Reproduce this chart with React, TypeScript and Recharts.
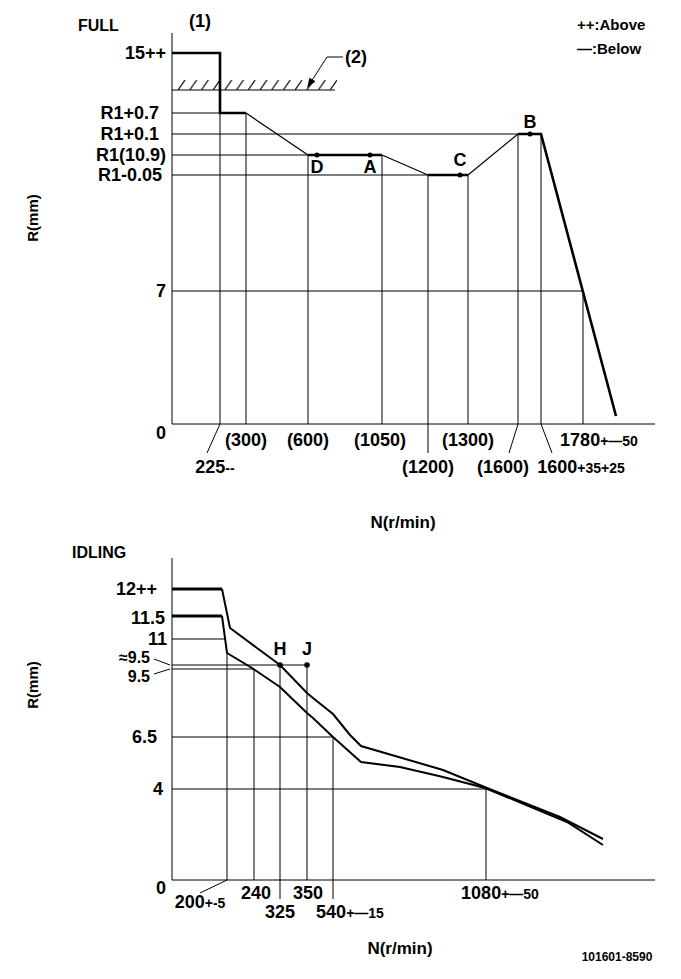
import React from "react";
import {
  ComposedChart,
  Line,
  XAxis,
  YAxis,
  ReferenceLine,
  ReferenceDot,
  ReferenceArea,
} from "recharts";

const FONT = "'Liberation Sans', Arial, sans-serif";
const INK = "#000";

// Schematic drawing: positions,
// x counted from the R axis, y counted up from the N axis.

// ---- FULL ----
const fullTickX = [48, 74, 136, 210, 256, 296, 346, 369, 411];
const fullTickXLabels = ["225--", "(300)", "(600)", "(1050)", "(1200)", "(1300)", "(1600)", "1600+35+25", "1780+—50"];
const fullTickY = [0, 133, 249, 269, 290, 311, 371];
const fullTickYLabels = ["0", "7", "R1-0.05", "R1(10.9)", "R1+0.1", "R1+0.7", "15++"];

const fullCurveX = [0, 48, 48, 74, 136, 210, 256, 296, 346, 369, 444];
const fullCurveY = [371, 371, 311, 311, 269, 269, 249, 249, 290, 290, 8];

const fullPointNames = ["D", "A", "C", "B"];
const fullPointX = [145, 198, 288, 358];
const fullPointY = [269, 269, 249, 290];

// horizontal guides: level and where they stop
const fullGuideLevels = [311, 290, 269, 249, 133];
const fullGuideLevelEnds = [48, 346, 136, 256, 411];
// vertical guides: one per speed tick, up to this level
const fullGuideTops = [311, 311, 269, 269, 249, 249, 290, 290, 133];

// ---- IDLING ----
const idleTickX = [55, 82, 108, 135, 161, 314];
const idleTickXLabels = ["200+-5", "240", "325", "350", "540+—15", "1080+—50"];
const idleTickY = [0, 91, 143, 211, 215, 241, 264, 291];
const idleTickYLabels = ["0", "4", "6.5", "9.5", "≈9.5", "11", "11.5", "12++"];

const idleUpperX = [0, 50, 58, 85, 108, 135, 141, 161, 178, 189, 271, 315, 388, 431];
const idleUpperY = [291, 291, 252, 232, 215, 187, 182, 166, 145, 134, 110, 92, 63, 41];
const idleLowerX = [0, 50, 55, 80, 108, 135, 141, 161, 189, 228, 271, 313, 395, 431];
const idleLowerY = [264, 264, 227, 212, 193, 167, 162, 143, 118, 113, 103, 92, 58, 35];

const idlePointNames = ["H", "J"];
const idlePointX = [108, 135];
const idlePointY = [215, 215];

const idleGuideLevels = [241, 215, 211, 143, 91];
const idleGuideLevelEnds = [54, 135, 82, 161, 314];
const idleGuideTops = [227, 211, 215, 215, 143, 91];

// ---- styling (kept apart from the values) ----
const fullSegWidth = [2.6, 2.6, 2.6, 1.2, 2.6, 1.2, 2.6, 1.2, 2.6, 2.6];
const idleSegWidth = (n: number) => Array.from({ length: n }, (_, i) => (i === 0 ? 3 : 2));

const fullXDx = [-5, 0, 0, -2, 0, 0, -15, 40, 16];
const fullXDy = [43, 16, 16, 16, 43, 16, 43, 43, 16];
const fullYGap = [6, 6, 10, 6, 13, 13, 6];
const fullYDy = [9, 0, 0, 0, 0, 0, 0];

const idleXDx = [-27, 2, 0, 1, 17, 14];
const idleXDy = [22, 13, 32, 13, 32, 13];
const idleYGap = [6, 9, 15, 22, 22, 5, 7, 15];
const idleYDy = [8, 0, 0, 7, -8, 0, 2, 0];
const idleYSize = [18, 18, 18, 16, 16, 18, 18, 18];

const TICK_SIZE = 18;
const Y_AXIS_W = 60;
const X_AXIS_H = 30;

function runs(xs: number[], ys: number[], widths: number[]) {
  const out: { w: number; pts: { x: number; y: number }[] }[] = [];
  for (let i = 0; i < xs.length - 1; i++) {
    const w = widths[i];
    const last = out[out.length - 1];
    if (last && last.w === w) {
      last.pts.push({ x: xs[i + 1], y: ys[i + 1] });
    } else {
      out.push({ w, pts: [{ x: xs[i], y: ys[i] }, { x: xs[i + 1], y: ys[i + 1] }] });
    }
  }
  return out;
}

function splitTol(label: string) {
  const m = label.match(/^(\(?\d+\)?)(.*)$/);
  return m ? [m[1], m[2]] : [label, ""];
}

function XTick(props: any) {
  const { x, y, payload, ticks, labels, dx, dy } = props;
  const i = ticks.indexOf(payload.value);
  if (i < 0) return null;
  const [main, tol] = splitTol(labels[i]);
  return (
    <text x={x + dx[i]} y={y + dy[i]} dy="0.36em" textAnchor="middle" fontFamily={FONT} fontWeight="bold" fontSize={TICK_SIZE} fill={INK}>
      {main}
      {tol && <tspan fontSize={14}>{tol}</tspan>}
    </text>
  );
}

function YTick(props: any) {
  const { x, y, payload, ticks, labels, gap, dy, sizes } = props;
  const i = ticks.indexOf(payload.value);
  if (i < 0) return null;
  return (
    <text
      x={x - gap[i]}
      y={y + dy[i]}
      dy="0.36em"
      textAnchor="end"
      fontFamily={FONT}
      fontWeight="bold"
      fontSize={sizes ? sizes[i] : TICK_SIZE}
      fill={INK}
    >
      {labels[i]}
    </text>
  );
}

const dotLabel = (value: string, position: "top" | "bottom", offset: number) => ({
  value,
  position,
  offset,
  fill: INK,
  fontSize: TICK_SIZE,
  fontWeight: "bold",
  fontFamily: FONT,
});

function Arrow(props: any) {
  const { cx, cy } = props;
  return <polygon points="0,0 -10,-3.5 -10,3.5" fill={INK} transform={`translate(${cx},${cy}) rotate(123)`} />;
}

function FullChart() {
  const segs = runs(fullCurveX, fullCurveY, fullSegWidth);
  return (
    <ComposedChart width={681} height={500} margin={{ top: 33, right: 26, bottom: 76 - X_AXIS_H, left: 172 - Y_AXIS_W }}>
      <defs>
        <pattern id="hatch" patternUnits="userSpaceOnUse" x={178} y={80} width={11.7} height={10}>
          <line x1={0} y1={10} x2={7} y2={0} stroke={INK} strokeWidth={1.2} />
        </pattern>
      </defs>
      <XAxis
        type="number"
        dataKey="x"
        domain={[0, 483]}
        allowDataOverflow
        ticks={fullTickX}
        interval={0}
        height={X_AXIS_H}
        tickSize={0}
        tickMargin={0}
        tickLine={false}
        axisLine={{ stroke: INK, strokeWidth: 1 }}
        tick={(p: any) => <XTick {...p} ticks={fullTickX} labels={fullTickXLabels} dx={fullXDx} dy={fullXDy} />}
      />
      <YAxis
        type="number"
        dataKey="y"
        domain={[0, 391]}
        allowDataOverflow
        ticks={fullTickY}
        interval={0}
        width={Y_AXIS_W}
        tickSize={0}
        tickMargin={0}
        tickLine={false}
        axisLine={{ stroke: INK, strokeWidth: 1 }}
        tick={(p: any) => <YTick {...p} ticks={fullTickY} labels={fullTickYLabels} gap={fullYGap} dy={fullYDy} />}
      />

      {fullGuideLevels.map((lv, i) => (
        <ReferenceLine key={"h" + i} segment={[{ x: 0, y: lv }, { x: fullGuideLevelEnds[i], y: lv }]} stroke={INK} strokeWidth={1} />
      ))}
      {fullTickX.map((sx, i) => (
        <ReferenceLine key={"v" + i} segment={[{ x: sx, y: 0 }, { x: sx, y: fullGuideTops[i] }]} stroke={INK} strokeWidth={1} />
      ))}

      {/* leaders below the axis */}
      <ReferenceLine segment={[{ x: 48, y: 0 }, { x: 35, y: -29 }]} stroke={INK} ifOverflow="visible" />
      <ReferenceLine segment={[{ x: 256, y: 0 }, { x: 256, y: -29 }]} stroke={INK} ifOverflow="visible" />
      <ReferenceLine segment={[{ x: 346, y: 0 }, { x: 337, y: -29 }]} stroke={INK} ifOverflow="visible" />
      <ReferenceLine segment={[{ x: 369, y: 0 }, { x: 380, y: -29 }]} stroke={INK} ifOverflow="visible" />

      {/* stopper (2) */}
      <ReferenceArea x1={2} x2={165} y1={334} y2={344} fill="url(#hatch)" fillOpacity={1} stroke="none" />
      <ReferenceLine segment={[{ x: 0, y: 334 }, { x: 163, y: 334 }]} stroke={INK} strokeWidth={1.2} />
      <ReferenceLine segment={[{ x: 155, y: 367 }, { x: 171, y: 367 }]} stroke={INK} />
      <ReferenceLine segment={[{ x: 155, y: 367 }, { x: 137, y: 339 }]} stroke={INK} />
      <ReferenceDot x={135} y={336} r={3} shape={<Arrow />} />

      {segs.map((s, i) => (
        <Line
          key={"s" + i}
          data={s.pts}
          dataKey="y"
          type="linear"
          stroke={INK}
          strokeWidth={s.w}
          strokeLinejoin="miter"
          dot={false}
          activeDot={false}
          isAnimationActive={false}
        />
      ))}

      {fullPointNames.map((n, i) => (
        <ReferenceDot
          key={n}
          x={fullPointX[i]}
          y={fullPointY[i]}
          r={2.5}
          fill={INK}
          stroke="none"
          label={i < 2 ? dotLabel(n, "bottom", 3) : dotLabel(n, "top", i === 3 ? 4 : 7)}
        />
      ))}
    </ComposedChart>
  );
}

function IdleChart() {
  const upper = runs(idleUpperX, idleUpperY, idleSegWidth(idleUpperX.length - 1));
  const lower = runs(idleLowerX, idleLowerY, idleSegWidth(idleLowerX.length - 1));
  return (
    <ComposedChart width={681} height={479} margin={{ top: 58, right: 26, bottom: 99 - X_AXIS_H, left: 172 - Y_AXIS_W }}>
      <XAxis
        type="number"
        dataKey="x"
        domain={[0, 483]}
        allowDataOverflow
        ticks={idleTickX}
        interval={0}
        height={X_AXIS_H}
        tickSize={0}
        tickMargin={0}
        tickLine={false}
        axisLine={{ stroke: INK, strokeWidth: 1 }}
        tick={(p: any) => <XTick {...p} ticks={idleTickX} labels={idleTickXLabels} dx={idleXDx} dy={idleXDy} />}
      />
      <YAxis
        type="number"
        dataKey="y"
        domain={[0, 322]}
        allowDataOverflow
        ticks={idleTickY}
        interval={0}
        width={Y_AXIS_W}
        tickSize={0}
        tickMargin={0}
        tickLine={false}
        axisLine={{ stroke: INK, strokeWidth: 1 }}
        tick={(p: any) => (
          <YTick {...p} ticks={idleTickY} labels={idleTickYLabels} gap={idleYGap} dy={idleYDy} sizes={idleYSize} />
        )}
      />

      {idleGuideLevels.map((lv, i) => (
        <ReferenceLine key={"h" + i} segment={[{ x: 0, y: lv }, { x: idleGuideLevelEnds[i], y: lv }]} stroke={INK} strokeWidth={1} />
      ))}
      {idleTickX.map((sx, i) => (
        <ReferenceLine key={"v" + i} segment={[{ x: sx, y: 0 }, { x: sx, y: idleGuideTops[i] }]} stroke={INK} strokeWidth={1} />
      ))}

      <ReferenceLine segment={[{ x: 55, y: 0 }, { x: 28, y: -13 }]} stroke={INK} ifOverflow="visible" />
      <ReferenceLine segment={[{ x: 108, y: 0 }, { x: 108, y: -19 }]} stroke={INK} ifOverflow="visible" />
      <ReferenceLine segment={[{ x: 161, y: 0 }, { x: 161, y: -19 }]} stroke={INK} ifOverflow="visible" />
      <ReferenceLine segment={[{ x: -18, y: 221 }, { x: -2, y: 215 }]} stroke={INK} ifOverflow="visible" />
      <ReferenceLine segment={[{ x: -18, y: 206 }, { x: -2, y: 211 }]} stroke={INK} ifOverflow="visible" />

      {[...upper, ...lower].map((s, i) => (
        <Line
          key={"s" + i}
          data={s.pts}
          dataKey="y"
          type="linear"
          stroke={INK}
          strokeWidth={s.w}
          dot={false}
          activeDot={false}
          isAnimationActive={false}
        />
      ))}

      {idlePointNames.map((n, i) => (
        <ReferenceDot key={n} x={idlePointX[i]} y={idlePointY[i]} r={2.8} fill={INK} stroke="none" label={dotLabel(n, "top", 7)} />
      ))}
    </ComposedChart>
  );
}

const txt = { fontFamily: FONT, fontWeight: "bold" as const, fill: INK };

export default function App() {
  return (
    <div style={{ position: "absolute", left: 0, top: 0, width: 681, height: 979, background: "#fff" }}>
      <div style={{ position: "absolute", left: 0, top: 0 }}>
        <FullChart />
      </div>
      <div style={{ position: "absolute", left: 0, top: 500 }}>
        <IdleChart />
      </div>
      <svg width={681} height={979} style={{ position: "absolute", left: 0, top: 0, pointerEvents: "none" }}>
        <text x={78} y={25} dy="0.36em" fontSize={16} {...txt}>FULL</text>
        <text x={200} y={21} dy="0.36em" fontSize={18} textAnchor="middle" {...txt}>(1)</text>
        <text x={356} y={57} dy="0.36em" fontSize={18} textAnchor="middle" {...txt}>(2)</text>
        <text x={577} y={25} dy="0.36em" fontSize={15} {...txt}>++:Above</text>
        <text x={577} y={49} dy="0.36em" fontSize={15} {...txt}>—:Below</text>
        <text x={33} y={218} dy="0.36em" fontSize={15} textAnchor="middle" transform="rotate(-90 33 218)" {...txt}>R(mm)</text>
        <text x={403} y={522} dy="0.36em" fontSize={17} textAnchor="middle" {...txt}>N(r/min)</text>

        <text x={72} y={552} dy="0.36em" fontSize={16} {...txt}>IDLING</text>
        <text x={33} y={685} dy="0.36em" fontSize={15} textAnchor="middle" transform="rotate(-90 33 685)" {...txt}>R(mm)</text>
        <text x={400} y={948} dy="0.36em" fontSize={17} textAnchor="middle" {...txt}>N(r/min)</text>
        <text x={617} y={957} dy="0.36em" fontSize={12} textAnchor="middle" {...txt}>101601-8590</text>
      </svg>
    </div>
  );
}
